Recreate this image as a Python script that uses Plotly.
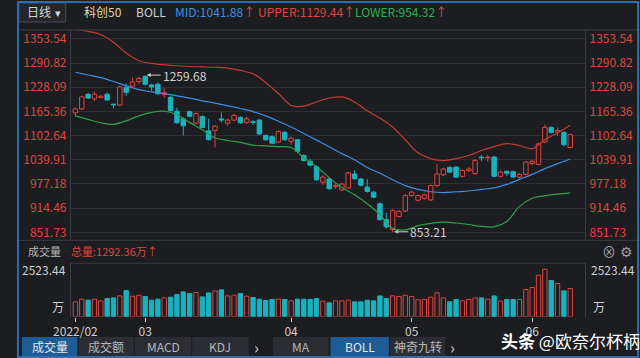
import plotly.graph_objects as go

# ---------------- data ----------------
opens = [1162, 1172, 1210, 1198, 1202, 1210, 1184, 1182, 1228, 1231, 1243, 1256, 1234, 1236, 1210, 1202, 1166, 1146, 1165, 1135,
         1152, 1115, 1116, 1146, 1135, 1143, 1150, 1137, 1139, 1143, 1103, 1100, 1086, 1111, 1088, 1092, 1051, 1036, 1022, 982,
         990, 970, 962, 967, 1003, 990, 969, 956, 926, 885, 859, 893, 907, 947, 935, 940, 936, 973, 1001, 1020,
         1021, 997, 1012, 1004, 1047, 1045, 1047, 997, 1010, 1009, 995, 1002, 1030, 1028, 1086, 1124, 1112, 1111, 1072]
highs = [1176, 1206, 1213, 1217, 1207, 1214, 1186, 1232, 1238, 1253, 1255, 1259.68, 1237, 1240, 1226, 1205, 1175, 1150, 1168, 1163,
         1155, 1146, 1130, 1163, 1147, 1160, 1153, 1152, 1143, 1146, 1106, 1103, 1116, 1115, 1100, 1094, 1054, 1042, 1025, 1000,
         993, 979, 980, 1008, 1012, 993, 990, 959, 929, 903, 912, 910, 950, 960, 950, 952, 976, 1029, 1020, 1024,
         1024, 1015, 1021, 1041, 1052, 1052, 1050, 1011, 1013, 1012, 1005, 1036, 1039, 1084, 1131, 1127, 1124, 1114, 1108]
lows = [1152, 1169, 1198, 1193, 1199, 1194, 1173, 1180, 1206, 1228, 1236, 1233, 1219, 1209, 1200, 1165, 1133, 1103, 1150, 1132,
        1122, 1090, 1072, 1137, 1128, 1140, 1133, 1133, 1130, 1104, 1089, 1080, 1083, 1089, 1079, 1058, 1035, 1022, 986, 975,
        962, 965, 959, 965, 988, 971, 955, 940, 882, 862, 853.21, 890, 904, 944, 932, 937, 933, 970, 998, 1005,
        992, 994, 1009, 1001, 1036, 1035, 994, 994, 998, 992, 991, 1000, 1027, 1026, 1083, 1108, 1102, 1075, 1070]
closes = [1172, 1203, 1200, 1210, 1205, 1195, 1182, 1229, 1215, 1242, 1251, 1236, 1229, 1211, 1214, 1168, 1136, 1128, 1153, 1160,
          1124, 1092, 1127, 1143, 1143, 1155, 1136, 1146, 1137, 1107, 1092, 1083, 1113, 1092, 1096, 1062, 1038, 1026, 988, 995,
          965, 973, 977, 1006, 991, 974, 958, 943, 885, 866, 908, 906, 947, 956, 947, 949, 973, 1003, 1016, 1008,
          995, 1012, 1016, 1038, 1045, 1047, 997, 1008, 1005, 995, 1002, 1034, 1036, 1081, 1124, 1111, 1116, 1079, 1105]
volumes = [794, 936, 883, 936, 846, 973, 1005, 1111, 1396, 1095, 1148, 1079, 883, 936, 1005, 1042, 1185, 1323, 1238, 1290,
           1058, 1270, 1375, 1428, 1111, 1148, 1238, 1095, 1026, 936, 868, 920, 936, 920, 846, 936, 936, 920, 973, 830,
           741, 846, 846, 883, 794, 794, 883, 846, 1111, 973, 1111, 1079, 1148, 1079, 900, 920, 1042, 1270, 1005, 794,
           920, 846, 920, 1005, 1005, 936, 1111, 830, 920, 920, 920, 1449, 1555, 2206, 2523.44, 1926, 1767, 1375, 1502]

boll_idx = list(range(0, 79, 2))
upper = [1378, 1373, 1365, 1345, 1317, 1297, 1290, 1286, 1284, 1282, 1281, 1280, 1278, 1272, 1263, 1240, 1212, 1181, 1179, 1190,
         1200, 1203, 1190, 1167, 1148, 1125, 1092, 1058, 1043, 1038, 1043, 1051, 1064, 1074, 1082, 1077, 1069, 1092, 1110, 1129.44]
mid = [1267, 1260, 1253, 1243, 1232, 1222, 1216, 1211, 1206, 1200, 1193, 1187, 1180, 1173, 1165, 1154, 1140, 1125, 1108, 1091,
       1074, 1056, 1040, 1020, 1005, 988, 973, 963, 957, 955, 957, 959, 963, 967, 976, 989, 1002, 1017, 1030, 1041.88]
lower = [1154, 1145, 1136, 1132, 1141, 1154, 1163, 1166, 1157, 1137, 1118, 1097, 1090, 1085, 1078, 1076, 1074, 1072, 1045, 1022,
         994, 968, 949, 926, 898, 862, 858, 869, 875, 878, 876, 872, 867, 866, 880, 919, 940, 947, 951, 954.32]

price_ticks = [1353.54, 1290.82, 1228.09, 1165.36, 1102.64, 1039.91, 977.18, 914.46, 851.73]
month_idx = [0, 11, 34, 53, 72]
month_labels = ["2022/02", "03", "04", "05", "06"]

# ---------------- style ----------------
W, H = 640, 358
BG = "#1c1d21"
RED = "#e0453f"
CYAN = "#1bb2bf"
GRID = "#2c2f35"
BORDER = "#3a3d44"
FONT = "Noto Sans CJK SC"
x_idx = list(range(len(closes)))


def px(x):
    return x / W


def py(y):
    return 1 - y / H


fig = go.Figure()

fig.add_trace(go.Scatter(x=boll_idx, y=upper, mode="lines", line=dict(color="#c53b33", width=1.2, shape="spline"),
                         xaxis="x", yaxis="y", hoverinfo="skip"))
fig.add_trace(go.Scatter(x=boll_idx, y=mid, mode="lines", line=dict(color="#3b8fe3", width=1.2, shape="spline"),
                         xaxis="x", yaxis="y", hoverinfo="skip"))
fig.add_trace(go.Scatter(x=boll_idx, y=lower, mode="lines", line=dict(color="#2f9f4c", width=1.2, shape="spline"),
                         xaxis="x", yaxis="y", hoverinfo="skip"))

# candlesticks drawn as wick segments + body bars
up = [c >= o for o, c in zip(opens, closes)]
for is_up, col in [(True, RED), (False, CYAN)]:
    wx, wy = [], []
    for i in x_idx:
        if up[i] != is_up:
            continue
        top = max(opens[i], closes[i])
        bot = min(opens[i], closes[i])
        wx += [i, i, None, i, i, None]
        wy += [highs[i], top, None, bot, lows[i], None]
    fig.add_trace(go.Scatter(x=wx, y=wy, mode="lines", line=dict(color=col, width=1),
                             xaxis="x", yaxis="y", hoverinfo="skip"))
body_base = [min(o, c) for o, c in zip(opens, closes)]
body_h = [max(abs(c - o), 1.0) for o, c in zip(opens, closes)]
fig.add_trace(go.Bar(x=x_idx, y=body_h, base=body_base, width=0.7,
                     marker=dict(color=[BG if u else CYAN for u in up],
                                 line=dict(color=[RED if u else CYAN for u in up], width=1)),
                     xaxis="x", yaxis="y", hoverinfo="skip"))

fig.add_trace(go.Bar(x=x_idx, y=volumes, width=0.68,
                     marker=dict(color=[BG if u else CYAN for u in up],
                                 line=dict(color=[RED if u else CYAN for u in up], width=1)),
                     xaxis="x2", yaxis="y2"))

xr = [-0.77, 80.4]
xdom = [px(55), px(584)]
fig.update_layout(
    width=W, height=H, autosize=False,
    margin=dict(l=0, r=0, t=0, b=0),
    paper_bgcolor=BG, plot_bgcolor=BG,
    showlegend=False, barmode="overlay",
    font=dict(family=FONT, size=12, color="#c8c8c8"),
    xaxis=dict(domain=xdom, range=xr, anchor="y", showticklabels=False, showgrid=False,
               zeroline=False, fixedrange=True),
    yaxis=dict(domain=[py(240), py(29)], range=[831.0, 1376.9], tickvals=price_ticks,
               ticktext=[f"{v:.2f}" for v in price_ticks], side="left",
               tickfont=dict(color=RED, size=12, family=FONT), showgrid=True, gridcolor=GRID,
               gridwidth=1, zeroline=False, ticks="", ticklabelstandoff=3),
    yaxis3=dict(overlaying="y", anchor="x", side="right", range=[831.0, 1376.9], tickvals=price_ticks,
                ticktext=[f"{v:.2f}" for v in price_ticks],
                tickfont=dict(color=RED, size=12, family=FONT), showgrid=False, zeroline=False,
                ticks="", ticklabelstandoff=3),
    xaxis2=dict(domain=xdom, range=xr, anchor="y2", tickvals=month_idx, ticktext=month_labels,
                ticks="outside", ticklen=4, tickcolor="#cfcfcf", tickwidth=1,
                tickfont=dict(color="#cfcfcf", size=12, family=FONT),
                showgrid=False, zeroline=False, showline=False),
    yaxis2=dict(domain=[py(316.7), py(263)], range=[0, 2841], showticklabels=False,
                showgrid=False, zeroline=False),
)
fig.add_trace(go.Scatter(x=[None], y=[None], xaxis="x", yaxis="y3", showlegend=False))

shapes = []


def hline(y, x0=0, x1=W, color=BORDER, w=1):
    shapes.append(dict(type="line", xref="paper", yref="paper", x0=px(x0), x1=px(x1), y0=py(y), y1=py(y),
                       line=dict(color=color, width=w)))


def vline(x, y0, y1, color=BORDER, w=1):
    shapes.append(dict(type="line", xref="paper", yref="paper", x0=px(x), x1=px(x), y0=py(y0), y1=py(y1),
                       line=dict(color=color, width=w)))


def rect(x0, y0, x1, y1, fill, line="rgba(0,0,0,0)", w=0):
    shapes.append(dict(type="rect", xref="paper", yref="paper", x0=px(x0), x1=px(x1), y0=py(y1), y1=py(y0),
                       fillcolor=fill, line=dict(color=line, width=w), layer="below"))


hline(29)
hline(240)
vline(55, 29, 240)
vline(584, 29, 240)
hline(263, 55, 584)
vline(55, 263, 317)
vline(584, 263, 317)
rect(2, 2, 50, 21, "#24262b", "#4a4d55", 1)
btns = [(5, 62, "成交量", True), (63, 120, "成交额", False), (121, 179, "MACD", False), (180, 238, "KDJ", False),
        (263, 320, "MA", False), (322, 382, "BOLL", True), (383, 440, "神奇九转", False)]
for x0, x1, _, act in btns:
    rect(x0, 337, x1, 356, "#1d5c95" if act else "#2b2d32")
shapes.append(dict(type="rect", xref="paper", yref="paper", x0=px(1), x1=px(638), y0=py(357), y1=py(1),
                   line=dict(color="#2a6db3", width=2), fillcolor="rgba(0,0,0,0)"))
fig.update_layout(shapes=shapes)

ann = []


def text(x, y, t, color="#c8c8c8", size=12, anchor="left", yanchor="middle"):
    ann.append(dict(xref="paper", yref="paper", x=px(x), y=py(y), text=t, showarrow=False,
                    xanchor=anchor, yanchor=yanchor, font=dict(color=color, size=size, family=FONT)))


text(8, 11, "日线", "#d6d6d6", 12)
text(42, 11, "▾", "#d6d6d6", 11, "center")
text(67, 11, "科创50", "#e2d3a3", 12)
text(120, 11, "BOLL", "#cfcfcf", 12)
UP = f"<span style='color:{RED}'>↑</span>"
text(160, 11, "MID:1041.88" + UP, "#3d8fe6", 12)
text(246, 11, "UPPER:1129.44" + UP, "#e0453f", 12)
text(345, 11, "LOWER:954.32" + UP, "#2fb055", 12)
text(9, 251, "成交量", "#b5b5b5", 11)
text(53, 251, "总量:1292.36万" + UP, RED, 11)
text(608, 251, "⊗", "#a0a0a0", 14, "center")
text(626, 251, "⚙", "#a0a0a0", 14, "center")
text(52, 269, "2523.44", "#cfcfcf", 12, "right")
text(588, 269, "2523.44", "#cfcfcf", 12)
text(50, 306, "万", "#cfcfcf", 12, "right")
text(590, 306, "万", "#cfcfcf", 12)
for x0, x1, t, act in btns:
    text((x0 + x1) / 2, 346.5, t, "#e6e6e6" if act else "#b8b8b8", 12, "center")
text(246, 346.5, "›", "#d0d0d0", 16, "center")
text(447, 346.5, "›", "#d0d0d0", 16, "center")
text(495, 340, "<b>头条</b> @欧奈尔杯柄", "#ffffff", 17)

hi_i = highs.index(max(highs))
lo_i = lows.index(min(lows))
for i, v in [(hi_i, highs[hi_i]), (lo_i, lows[lo_i])]:
    ann.append(dict(xref="x", yref="y", x=i + 0.25, y=v, ax=14, ay=0, axref="pixel", ayref="pixel",
                    text=f"{v:.2f}", showarrow=True, arrowhead=2, arrowsize=0.8, arrowwidth=1,
                    arrowcolor="#c8c8c8", xanchor="left", yanchor="middle",
                    font=dict(color="#d0d0d0", size=12, family=FONT)))

fig.update_layout(annotations=ann)
fig.write_html("out.html", config={"displayModeBar": False},
               post_script="document.body.style.margin='0';document.body.style.overflow='hidden';")
